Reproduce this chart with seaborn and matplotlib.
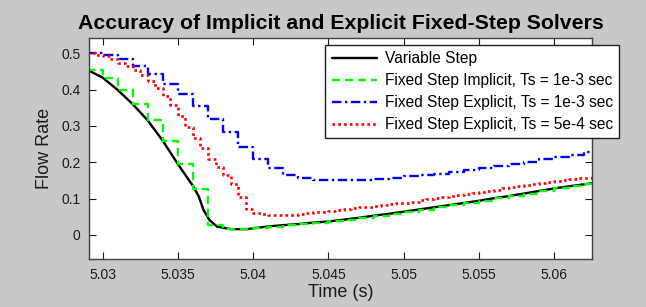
"""Accuracy of implicit and explicit fixed-step solvers (flow rate vs time)."""

import numpy as np
import pandas as pd
import matplotlib

matplotlib.use("Agg")
import matplotlib.pyplot as plt
import seaborn as sns

# ---------------------------------------------------------------- data
# variable-step reference solution
var_t = [5.0291, 5.0300, 5.0310, 5.0320, 5.0330, 5.0340, 5.0350, 5.0355,
         5.0360, 5.0364, 5.0367, 5.0371, 5.0376, 5.0385, 5.0396, 5.0409,
         5.0420, 5.0430, 5.0440, 5.0450, 5.0460, 5.0470, 5.0480, 5.0490,
         5.0500, 5.0510, 5.0520, 5.0530, 5.0540, 5.0550, 5.0560, 5.0570,
         5.0580, 5.0590, 5.0600, 5.0610, 5.0625]
var_flow = [0.452, 0.433, 0.399, 0.360, 0.315, 0.259, 0.195, 0.165,
            0.135, 0.105, 0.069, 0.041, 0.023, 0.016, 0.016, 0.023,
            0.027, 0.030, 0.034, 0.037, 0.042, 0.047, 0.053, 0.058,
            0.064, 0.070, 0.076, 0.082, 0.088, 0.094, 0.101, 0.107,
            0.114, 0.121, 0.128, 0.134, 0.142]

# fixed-step solvers: one value per solver step, starting at T0
T0 = 5.029
TS_1MS = 1e-3
TS_05MS = 5e-4

implicit_1ms = [0.455, 0.431, 0.399, 0.360, 0.315, 0.259, 0.195, 0.126,
                0.027, 0.017, 0.016, 0.019, 0.023, 0.027, 0.030, 0.034,
                0.037, 0.042, 0.047, 0.053, 0.058, 0.064, 0.070, 0.076,
                0.082, 0.088, 0.094, 0.101, 0.107, 0.114, 0.121, 0.128,
                0.134, 0.140, 0.143]

explicit_1ms = [0.500, 0.495, 0.483, 0.465, 0.442, 0.416, 0.388, 0.354,
                0.318, 0.282, 0.243, 0.210, 0.185, 0.165, 0.156, 0.152,
                0.150, 0.150, 0.151, 0.153, 0.157, 0.161, 0.165, 0.169,
                0.173, 0.178, 0.184, 0.190, 0.195, 0.201, 0.208, 0.215,
                0.221, 0.228, 0.234]

explicit_05ms = [0.500, 0.496, 0.491, 0.483, 0.474, 0.465, 0.454, 0.440,
                 0.423, 0.405, 0.383, 0.358, 0.328, 0.298, 0.268, 0.238,
                 0.210, 0.188, 0.166, 0.140, 0.105, 0.072, 0.061, 0.057,
                 0.055, 0.055, 0.055, 0.056, 0.058, 0.060, 0.062, 0.064,
                 0.066, 0.068, 0.071, 0.073, 0.076, 0.078, 0.080, 0.083,
                 0.085, 0.087, 0.089, 0.092, 0.095, 0.098, 0.101, 0.104,
                 0.107, 0.110, 0.113, 0.116, 0.119, 0.122, 0.125, 0.128,
                 0.131, 0.134, 0.137, 0.140, 0.143, 0.146, 0.149, 0.152,
                 0.154, 0.156, 0.158, 0.160]

labels = ["Variable Step",
          "Fixed Step Implicit, Ts = 1e-3 sec",
          "Fixed Step Explicit, Ts = 1e-3 sec",
          "Fixed Step Explicit, Ts = 5e-4 sec"]

x_ticks = [5.03, 5.035, 5.04, 5.045, 5.05, 5.055, 5.06]
x_ticklabels = ["5.03", "5.035", "5.04", "5.045", "5.05", "5.055", "5.06"]
y_ticks = [0, 0.1, 0.2, 0.3, 0.4, 0.5]
y_ticklabels = ["0", "0.1", "0.2", "0.3", "0.4", "0.5"]


def solver_frame(values, ts):
    t = T0 + ts * np.arange(len(values))
    return pd.DataFrame({"time": t, "flow": values})


def main() -> None:
    sns.set_style("ticks")
    plt.rcParams["font.family"] = ["Liberation Sans", "DejaVu Sans"]
    plt.rcParams["text.color"] = "black"
    plt.rcParams["axes.labelcolor"] = "#1a1a1a"

    fig = plt.figure(figsize=(6.46, 3.07), dpi=100, facecolor="#c8c8c8")
    ax = fig.add_axes([89 / 646, 1 - 259.3 / 307, (592 - 89) / 646,
                       (259.3 - 38.3) / 307])
    ax.set_facecolor("white")

    series = [
        (pd.DataFrame({"time": var_t, "flow": var_flow}), "black", "-", 1.7, "default"),
        (solver_frame(implicit_1ms, TS_1MS), "#00ff00", (0, (3.5, 2)), 1.7, "steps-post"),
        (solver_frame(explicit_1ms, TS_1MS), "#0000ff", (0, (4, 1.5, 1, 1.5)), 1.7, "steps-post"),
        (solver_frame(explicit_05ms, TS_05MS), "#ff0000", (0, (1, 1.2)), 1.9, "steps-post"),
    ]
    for (df, color, ls, lw, ds), label in zip(series, labels):
        sns.lineplot(data=df, x="time", y="flow", ax=ax, color=color,
                     linestyle=ls, linewidth=lw, drawstyle=ds,
                     estimator=None, sort=False, label=label)

    ax.set_xlim(5.0291, 5.0625)
    ax.set_ylim(-0.067, 0.541)
    ax.set_xticks(x_ticks, x_ticklabels)
    ax.set_yticks(y_ticks, y_ticklabels)
    ax.tick_params(direction="in", top=True, right=True, length=5,
                   width=0.8, labelsize=10, colors="#1a1a1a", pad=6)
    for s in ax.spines.values():
        s.set_color("#404040")
        s.set_linewidth(1.0)

    ax.set_xlabel("Time (s)", fontsize=13, labelpad=2)
    ax.set_ylabel("Flow Rate", fontsize=13, labelpad=6)
    ax.set_title("Accuracy of Implicit and Explicit Fixed-Step Solvers",
                 fontsize=15.3, fontweight="bold", pad=7, color="black")

    leg = ax.legend(loc="upper right", bbox_to_anchor=(619 / 646, 1 - 45 / 307),
                    bbox_transform=fig.transFigure, borderaxespad=0,
                    fontsize=11.2, handlelength=2.9, handletextpad=0.5,
                    labelspacing=0.45, borderpad=0.4, fancybox=False,
                    framealpha=1, edgecolor="#202020", labelcolor="black")
    leg.get_frame().set_linewidth(1.0)

    fig.savefig("out.png", dpi=100, facecolor=fig.get_facecolor())
    plt.close(fig)


if __name__ == "__main__":
    main()
